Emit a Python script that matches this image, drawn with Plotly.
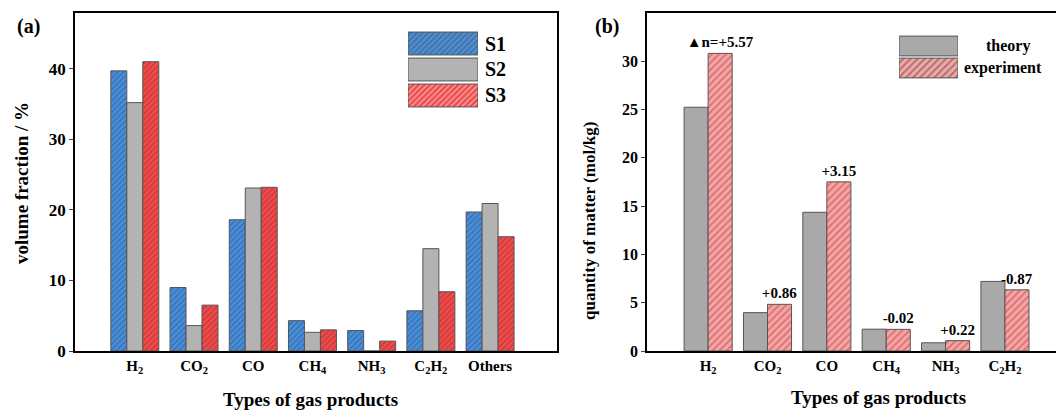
import plotly.graph_objects as go

# ---------------- data ----------------
categories_a = ["H<sub>2</sub>", "CO<sub>2</sub>", "CO", "CH<sub>4</sub>",
                "NH<sub>3</sub>", "C<sub>2</sub>H<sub>2</sub>", "Others"]
s1_values = [39.7, 9.0, 18.6, 4.3, 2.9, 5.7, 19.7]
s2_values = [35.2, 3.6, 23.1, 2.65, 0.0, 14.5, 20.9]
s3_values = [41.0, 6.5, 23.2, 3.0, 1.4, 8.4, 16.2]
series_names_a = ["S1", "S2", "S3"]

categories_b = ["H<sub>2</sub>", "CO<sub>2</sub>", "CO", "CH<sub>4</sub>",
                "NH<sub>3</sub>", "C<sub>2</sub>H<sub>2</sub>"]
theory_values = [25.22, 3.97, 14.35, 2.26, 0.85, 7.20]
experiment_values = [30.79, 4.83, 17.50, 2.24, 1.07, 6.33]
diff_labels = ["▲n=+5.57", "+0.86", "+3.15", "-0.02", "+0.22", "-0.87"]
series_names_b = ["theory", "experiment"]

yticks_a = [0, 10, 20, 30, 40]
yticks_b = [0, 5, 10, 15, 20, 25, 30]

# ---------------- style ----------------
W, H = 1056, 412
FONT = "Liberation Serif"
EDGE = dict(color="#555555", width=1)
BLUE_BG, BLUE_FG = "#4b8fd8", "#1d4f8e"
GRAY_A = "#b3b3b3"
RED_BG, RED_FG = "#ef4c4c", "#a42121"
GRAY_B = "#a9a9a9"
PINK_BG, PINK_FG = "#f5a5a5", "#c33c3c"


def px_x(p):
    return p / W


def px_y(p):
    return 1 - p / H


def pat(bg, fg, size):
    return dict(shape="/", bgcolor=bg, fgcolor=fg, size=size, solidity=0.35,
                fillmode="overlay")


fig = go.Figure()
xa = list(range(len(categories_a)))
xb = list(range(len(categories_b)))

# panel (a)
fig.add_trace(go.Bar(x=xa, y=s1_values, name="S1", xaxis="x", yaxis="y",
                     marker=dict(color=BLUE_BG, line=EDGE, pattern=pat(BLUE_BG, BLUE_FG, 4))))
fig.add_trace(go.Bar(x=xa, y=s2_values, name="S2", xaxis="x", yaxis="y",
                     marker=dict(color=GRAY_A, line=EDGE)))
fig.add_trace(go.Bar(x=xa, y=s3_values, name="S3", xaxis="x", yaxis="y",
                     marker=dict(color=RED_BG, line=EDGE, pattern=pat(RED_BG, RED_FG, 4))))

# panel (b)
fig.add_trace(go.Bar(x=xb, y=theory_values, name="theory", xaxis="x2", yaxis="y2",
                     marker=dict(color=GRAY_B, line=EDGE)))
fig.add_trace(go.Bar(x=xb, y=experiment_values, name="experiment", xaxis="x2", yaxis="y2",
                     marker=dict(color=PINK_BG, line=EDGE, pattern=pat(PINK_BG, PINK_FG, 5)),
                     text=diff_labels, textposition="outside", constraintext="none",
                     cliponaxis=False,
                     textfont=dict(family=FONT, size=15, color="black", weight="bold")))

# legend swatches (a)
fig.add_trace(go.Bar(y=series_names_a, x=[1, 1, 1], orientation="h", xaxis="x3", yaxis="y3",
                     width=0.88,
                     marker=dict(color=[BLUE_BG, GRAY_A, RED_BG], line=EDGE,
                                 pattern=dict(shape=["/", "", "/"],
                                              bgcolor=[BLUE_BG, GRAY_A, RED_BG],
                                              fgcolor=[BLUE_FG, GRAY_A, RED_FG],
                                              size=4, solidity=0.35, fillmode="overlay")),
                     hoverinfo="skip"))
# legend swatches (b)
fig.add_trace(go.Bar(y=series_names_b, x=[1, 1], orientation="h", xaxis="x4", yaxis="y4",
                     width=0.9,
                     marker=dict(color=[GRAY_B, PINK_BG], line=EDGE,
                                 pattern=dict(shape=["", "/"],
                                              bgcolor=[GRAY_B, PINK_BG],
                                              fgcolor=[GRAY_B, PINK_FG],
                                              size=5, solidity=0.35, fillmode="overlay")),
                     hoverinfo="skip"))

tickfont_x = dict(family=FONT, size=15, color="black", weight="bold")
axis_common = dict(showline=True, linecolor="black", linewidth=1.5, showgrid=False,
                   zeroline=False, fixedrange=True, automargin=False)
hidden = dict(visible=False, fixedrange=True, automargin=False)

fig.update_layout(
    width=W, height=H,
    margin=dict(l=0, r=0, t=0, b=0, pad=0, autoexpand=False),
    paper_bgcolor="white", plot_bgcolor="white",
    showlegend=False, barmode="group", bargap=0.19,
    font=dict(family=FONT, color="black"),
    xaxis=dict(domain=[px_x(75), px_x(557)], anchor="y", range=[-1.01, 7.13],
               tickvals=xa, ticktext=categories_a, ticks="", mirror=True,
               tickfont=tickfont_x, **axis_common),
    yaxis=dict(domain=[px_y(351), px_y(13)], anchor="x", range=[0, 47.9],
               tickvals=yticks_a, ticks="outside", ticklen=4, tickwidth=1.2, mirror=True,
               tickfont=dict(family=FONT, size=17, color="black", weight="bold"),
               **axis_common),
    xaxis2=dict(domain=[px_x(647), 1.0], anchor="y2", range=[-1.03, 5.86],
                tickvals=xb, ticktext=categories_b, ticks="", mirror=True,
                tickfont=tickfont_x, **axis_common),
    yaxis2=dict(domain=[px_y(351), px_y(13)], anchor="x2", range=[0, 34.97],
                tickvals=yticks_b, ticks="outside", ticklen=4, tickwidth=1.2,
                tickfont=dict(family=FONT, size=16, color="black", weight="bold"),
                **axis_common),
    xaxis3=dict(domain=[px_x(408), px_x(478)], anchor="y3", range=[0, 1], **hidden),
    yaxis3=dict(domain=[px_y(108.5), px_y(30.5)], anchor="x3", autorange="reversed", **hidden),
    xaxis4=dict(domain=[px_x(899), px_x(958)], anchor="y4", range=[0, 1], **hidden),
    yaxis4=dict(domain=[px_y(79), px_y(35)], anchor="x4", autorange="reversed", **hidden),
)

ann = []


def add_text(text, x, y, size, angle=0, xanchor="center"):
    ann.append(dict(text=text, x=px_x(x), y=px_y(y), xref="paper", yref="paper",
                    showarrow=False, textangle=angle, xanchor=xanchor, yanchor="middle",
                    font=dict(family=FONT, size=size, color="black", weight="bold")))


add_text("(a)", 28, 27, 20)
add_text("(b)", 607, 27, 20)
add_text("volume fraction / %", 21, 183, 19, angle=-90)
add_text("quantity of matter (mol/kg)", 589, 221, 17, angle=-90)
add_text("Types of gas products", 310, 399, 19)
add_text("Types of gas products", 878, 397, 19)
for name, yy in zip(series_names_a, [43.5, 69, 95.5]):
    add_text(name, 483, yy, 20, xanchor="left")
add_text("theory", 1008, 46, 16)
add_text("experiment", 962, 68, 16, xanchor="left")
fig.update_layout(annotations=ann)

fig.write_html("out.html")
